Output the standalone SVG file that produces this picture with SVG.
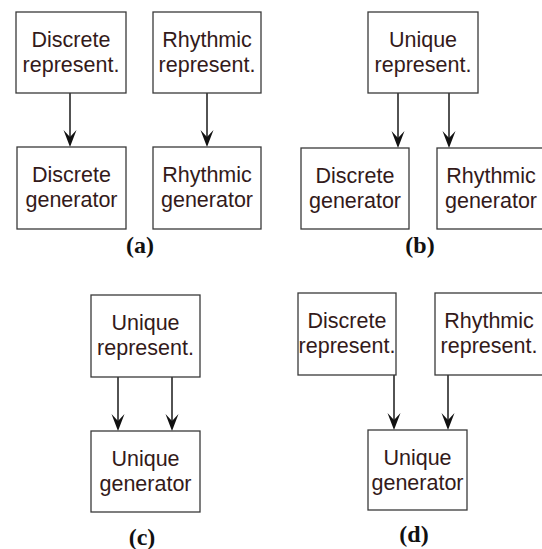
<svg xmlns="http://www.w3.org/2000/svg" width="542" height="549" viewBox="0 0 542 549">
<style>
.box{fill:#fff;stroke:#3a3a3a;stroke-width:1.3}
.t{font-family:"Liberation Sans",Arial,sans-serif;font-size:21.5px;fill:#331a1a;text-anchor:middle}
.lab{font-family:"Liberation Serif","Times New Roman",serif;font-size:24px;font-weight:bold;fill:#111;text-anchor:middle}
.edge{stroke:#1a1a1a;stroke-width:1.5;fill:none;marker-end:url(#ah)}
</style>
<defs>
<marker id="ah" markerUnits="userSpaceOnUse" viewBox="-19 -8 20 16" markerWidth="20" markerHeight="16" refX="-9" refY="0" orient="auto">
<path d="M0,0 L-17,-6.5 L-10,0 L-17,6.5 Z" fill="#111"/>
</marker>
</defs>
<rect width="542" height="549" fill="#fff"/>
<g id="connectors">
<line class="edge" x1="70" y1="93" x2="70" y2="138"/>
<line class="edge" x1="207" y1="93" x2="207" y2="138"/>
<line class="edge" x1="398" y1="93" x2="398" y2="139"/>
<line class="edge" x1="449" y1="93" x2="449" y2="139"/>
<line class="edge" x1="118" y1="377" x2="118" y2="422"/>
<line class="edge" x1="172" y1="377" x2="172" y2="422"/>
<line class="edge" x1="394" y1="375" x2="394" y2="421"/>
<line class="edge" x1="448" y1="375" x2="448" y2="421"/>
</g>
<g id="a-discrete-repr"><rect class="box" x="16" y="12" width="110" height="81"/><text class="t" x="71" y="46.5">Discrete</text><text class="t" x="71" y="71.5">represent.</text></g>
<g id="a-rhythmic-repr"><rect class="box" x="153" y="12" width="108" height="81"/><text class="t" x="207" y="46.5">Rhythmic</text><text class="t" x="207" y="71.5">represent.</text></g>
<g id="a-discrete-gen"><rect class="box" x="17" y="147" width="109" height="82"/><text class="t" x="71.5" y="181.5">Discrete</text><text class="t" x="71.5" y="206.5">generator</text></g>
<g id="a-rhythmic-gen"><rect class="box" x="153" y="147" width="108" height="82"/><text class="t" x="207" y="181.5">Rhythmic</text><text class="t" x="207" y="206.5">generator</text></g>
<text class="lab" x="140" y="253">(a)</text>
<g id="b-unique-repr"><rect class="box" x="368" y="12" width="110" height="81"/><text class="t" x="423" y="46.5">Unique</text><text class="t" x="423" y="71.5">represent.</text></g>
<g id="b-discrete-gen"><rect class="box" x="301" y="148" width="108" height="81"/><text class="t" x="355" y="182.5">Discrete</text><text class="t" x="355" y="207.5">generator</text></g>
<g id="b-rhythmic-gen"><rect class="box" x="437" y="148" width="108" height="81"/><text class="t" x="491" y="182.5">Rhythmic</text><text class="t" x="491" y="207.5">generator</text></g>
<text class="lab" x="420" y="253">(b)</text>
<g id="c-unique-repr"><rect class="box" x="91" y="295" width="109" height="82"/><text class="t" x="145.5" y="330">Unique</text><text class="t" x="145.5" y="355">represent.</text></g>
<g id="c-unique-gen"><rect class="box" x="91" y="431" width="109" height="81"/><text class="t" x="145.5" y="465.5">Unique</text><text class="t" x="145.5" y="490.5">generator</text></g>
<text class="lab" x="142" y="545">(c)</text>
<g id="d-discrete-repr"><rect class="box" x="298" y="293" width="98" height="82"/><text class="t" x="347" y="328">Discrete</text><text class="t" x="347" y="353">represent.</text></g>
<g id="d-rhythmic-repr"><rect class="box" x="435" y="293" width="109" height="82"/><text class="t" x="489" y="328">Rhythmic</text><text class="t" x="489" y="353">represent.</text></g>
<g id="d-unique-gen"><rect class="box" x="368" y="430" width="99" height="80"/><text class="t" x="417.5" y="464.5">Unique</text><text class="t" x="417.5" y="489.5">generator</text></g>
<text class="lab" x="414" y="542">(d)</text>
</svg>
